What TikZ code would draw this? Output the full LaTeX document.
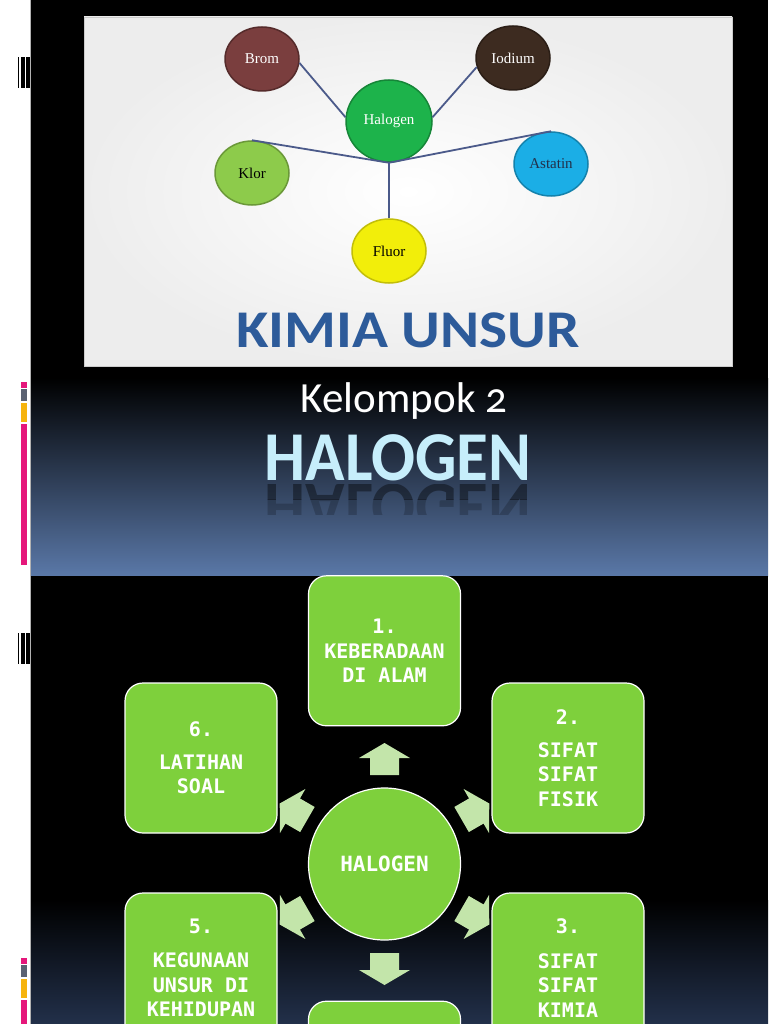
\documentclass[tikz,border=0pt]{standalone}
\usepackage{fontspec}
\usepackage{graphicx}
\setmainfont{Liberation Serif}
\newfontfamily\labelfont{Carlito}
\newfontfamily\groupfont[Numbers=OldStyle]{Carlito}
\newfontfamily\wideFont[FakeStretch=1.12]{Carlito}
\newfontfamily\narrowfont[FakeStretch=0.93]{Carlito}
\newfontfamily\boxfont{DejaVu Sans Mono}
\usetikzlibrary{positioning, shapes.geometric}

\definecolor{boxgreen}{HTML}{7ED03C}
\definecolor{arrowgreen}{HTML}{C3E5AA}
\definecolor{bromred}{HTML}{7A3E3E}
\definecolor{iodbrown}{HTML}{3D2B20}
\definecolor{halgreen}{HTML}{1DB34B}
\definecolor{klorgreen}{HTML}{8DCB4B}
\definecolor{astblue}{HTML}{1BAEE6}
\definecolor{fluoryellow}{HTML}{F2EE0A}
\definecolor{linkblue}{HTML}{4B5A8A}
\definecolor{kimiablue}{HTML}{2D5B9A}
\definecolor{titlecyan}{HTML}{C6EEFB}
\definecolor{slideblue}{HTML}{5A78A8}
\definecolor{navy}{HTML}{22304A}
\definecolor{strippink}{HTML}{E5177B}
\definecolor{stripgray}{HTML}{5B6272}
\definecolor{striporange}{HTML}{F6B40E}

\begin{document}
\begin{tikzpicture}[x=1pt, y=-1pt,
			element/.style={
				ellipse,
				minimum width=74pt,
				minimum height=64pt,
				inner sep=0pt,
				line width=1.5pt,
				font=\fontsize{15}{18}\selectfont
			},
			topic/.style={
				rectangle,
				minimum width=152pt,
				minimum height=150pt,
				inner sep=2pt,
				rounded corners=18pt,
				fill=boxgreen,
				draw=white,
				line width=1.2pt,
				text=white,
				font=\boxfont\bfseries\fontsize{20}{24.5}\selectfont,
				align=center
			},
			link/.style={
				draw=linkblue,
				line width=1.8pt
			},
			pointer/.style={
				fill=arrowgreen
			}
			]
			\useasboundingbox (0,0) rectangle (768,1024);
			\clip (0,0) rectangle (768,1024);
			
			% Latar: strip putih dan tiga slide
			\fill[white] (0,0) rectangle (30,1024);
			\fill[black] (30,0) rectangle (768,378);
			\shade[top color=black, bottom color=slideblue] (30,378) rectangle (768,576);
			\fill[black] (30,576) rectangle (768,900);
			\shade[top color=black, bottom color=navy] (30,900) rectangle (768,1024);
			\draw[gray!60, line width=0.8pt] (30,0) -- (30,1024);
			
			% Penanda di strip kiri
			\foreach \y in {57,633} {
				\fill[black] (18,\y) rectangle (19.4,\y+31);
				\fill[black] (21,\y) rectangle (25,\y+31);
				\fill[black] (26,\y) rectangle (30,\y+31);
			}
			\fill[strippink] (21,382) rectangle (27,388);
			\fill[stripgray] (21,389) rectangle (27,401);
			\fill[striporange] (21,403) rectangle (27,422);
			\fill[strippink] (21,424) rectangle (27,565);
			\fill[strippink] (21,958) rectangle (27,964);
			\fill[stripgray] (21,965) rectangle (27,977);
			\fill[striporange] (21,979) rectangle (27,998);
			\fill[strippink] (21,1000) rectangle (27,1024);
			
			% Slide 1: gambar unsur halogen
			\shade[inner color=white, outer color=black!7] (84,17) rectangle (732,366);
			\draw[black!20, line width=0.6pt] (84,17) rectangle (732,366);
			
			\node[element, minimum width=86pt, minimum height=82pt, fill=halgreen, draw=halgreen!75!black, text=white] (halogen) at (389,121) {Halogen};
			\node[element, fill=bromred, draw=bromred!70!black, text=white] (brom) at (262,59) {Brom};
			\node[element, fill=iodbrown, draw=iodbrown!70!black, text=white] (iodium) at (513,58) {Iodium};
			\node[element, fill=klorgreen, draw=klorgreen!75!black, text=black] (klor) at (252,173) {Klor};
			\node[element, fill=astblue, draw=astblue!75!black, text=navy] (astatin) at (551,164) {Astatin};
			\node[element, fill=fluoryellow, draw=fluoryellow!80!black, text=black] (fluor) at (389,251) {Fluor};
			
			\draw[link] (brom.-6) -- (halogen.175);
			\draw[link] (iodium.194) -- (halogen.5);
			\draw[link] (klor.north) -- (halogen.south);
			\draw[link] (halogen.south) -- (astatin.north);
			\draw[link] (halogen.south) -- (fluor.north);
			
			\node[font=\wideFont\bfseries\fontsize{53}{60}\selectfont, text=kimiablue, anchor=base] (kimiaunsur) at (408,347) {KIMIA UNSUR};
			
			% Slide 2: judul
			\node[font=\groupfont\fontsize{43}{50}\selectfont, text=white, anchor=base] (kelompok) at (404,412) {Kelompok 2};
			\node[font=\narrowfont\bfseries\fontsize{70}{80}\selectfont, text=titlecyan, anchor=base] (judul) at (398,480) {HALOGEN};
			\begin{scope}
				\clip (200,484) rectangle (600,499);
				\node[font=\narrowfont\bfseries\fontsize{70}{80}\selectfont, text=black, text opacity=0.4, anchor=base] (bayangan) at (398,484) {\scalebox{1}[-1]{HALOGEN}};
			\end{scope}
			\begin{scope}
				\clip (200,499) rectangle (600,514);
				\node[font=\narrowfont\bfseries\fontsize{70}{80}\selectfont, text=black, text opacity=0.2, anchor=base] (bayangan2) at (398,484) {\scalebox{1}[-1]{HALOGEN}};
			\end{scope}
			
			% Slide 3: peta materi
			\node[ellipse, minimum width=152pt, minimum height=152pt, fill=boxgreen, draw=white, line width=1.2pt, text=white, font=\boxfont\bfseries\fontsize{21}{24}\selectfont] (core) at (384.5,864) {HALOGEN};
			
			% Panah ke tiap materi
			\foreach \ang in {90,30,150,210,270,330} {
				\begin{scope}[shift={(core.center)}, rotate=\ang]
					\fill[pointer] (89,-14.5) -- (106,-14.5) -- (106,-25.5) -- (121,0) -- (106,25.5) -- (106,14.5) -- (89,14.5) -- cycle;
				\end{scope}
			}
			
			\node[topic, above=61pt of core] (keberadaan) {1.\\KEBERADAAN\\DI ALAM};
			\node[topic] (fisik) at (568,758) {2.\\[8pt]SIFAT\\SIFAT\\FISIK};
			\node[topic] (kimia) at (568,968) {3.\\[10pt]SIFAT\\SIFAT\\KIMIA};
			\node[topic, below=60pt of core] (empat) {};
			\node[topic] (kegunaan) at (201,968) {5.\\[10pt]KEGUNAAN\\UNSUR DI\\KEHIDUPAN};
			\node[topic] (latihan) at (201,758) {6.\\[8pt]LATIHAN\\SOAL};
			
		\end{tikzpicture}
\end{document}
